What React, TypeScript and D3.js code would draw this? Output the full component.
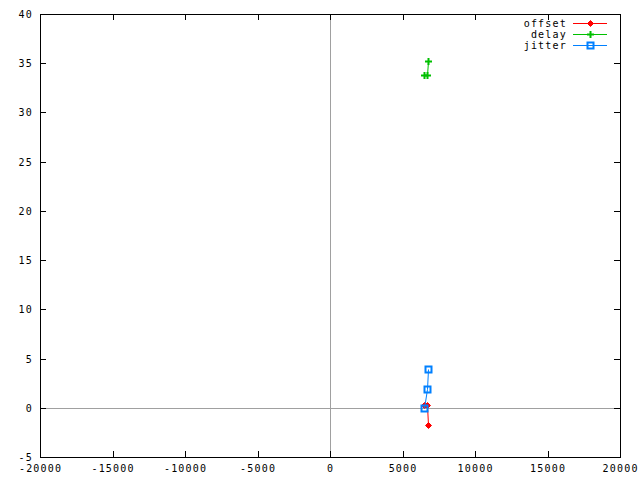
import React from 'react';
import * as d3 from 'd3';

const xValues = [6480, 6690, 6760];
const offsetValues = [0.3, 0.3, -1.7];
const delayValues = [33.8, 33.8, 35.2];
const jitterValues = [0.0, 1.9, 3.9];
const xTicks = [-20000, -15000, -10000, -5000, 0, 5000, 10000, 15000, 20000];
const yTicks = [-5, 0, 5, 10, 15, 20, 25, 30, 35, 40];
const seriesNames = ['offset', 'delay', 'jitter'];

const W = 640, H = 480;
const L = 40, R = 620, T = 14, B = 457;
const FONT = '"DejaVu Sans Mono", monospace';
const FS = 10;
const LS = 1.2;
const colors = ['#ff0000', '#00c000', '#0080ff'];

function Marker({ kind, x, y, color }: { kind: number; x: number; y: number; color: string }) {
  const cx = Math.round(x) + 0.5, cy = Math.round(y) + 0.5;
  if (kind === 0) {
    return <path d={`M${cx},${cy - 3}L${cx + 3},${cy}L${cx},${cy + 3}L${cx - 3},${cy}Z`} fill={color} stroke={color} strokeWidth={1} />;
  }
  if (kind === 1) {
    return <path d={`M${cx - 3.5},${cy}H${cx + 3.5}M${cx},${cy - 3.5}V${cy + 3.5}`} stroke={color} strokeWidth={2} fill="none" />;
  }
  return <rect x={cx - 3} y={cy - 3} width={6} height={6} fill="none" stroke={color} strokeWidth={2} />;
}

export default function App() {
  const x = d3.scaleLinear().domain([-20000, 20000]).range([L, R]);
  const y = d3.scaleLinear().domain([-5, 40]).range([B, T]);
  const series = [offsetValues, delayValues, jitterValues];
  const line = (vals: number[]) =>
    d3.line<number>().x((_, i) => Math.round(x(xValues[i])) + 0.5).y((v) => Math.round(y(v)) + 0.5)(vals) || '';
  const px = (v: number) => Math.round(v) + 0.5;
  const txt = { fontFamily: FONT, fontSize: FS, letterSpacing: LS, fill: '#000' } as const;

  return (
    <svg width={W} height={H} style={{ position: 'absolute', left: 0, top: 0, background: '#fff' }}>
      <rect x={0} y={0} width={W} height={H} fill="#fff" />
      <line x1={L} x2={R} y1={px(y(0))} y2={px(y(0))} stroke="#a0a0a0" strokeWidth={1} />
      <line x1={px(x(0))} x2={px(x(0))} y1={T} y2={B} stroke="#a0a0a0" strokeWidth={1} />
      {yTicks.map((t) => (
        <g key={'y' + t}>
          <line x1={L} x2={L + 6} y1={px(y(t))} y2={px(y(t))} stroke="#000" />
          <line x1={R - 6} x2={R} y1={px(y(t))} y2={px(y(t))} stroke="#000" />
          <text x={33} y={y(t) + 4} textAnchor="end" {...txt}>{t}</text>
        </g>
      ))}
      {xTicks.map((t) => (
        <g key={'x' + t}>
          <line x1={px(x(t))} x2={px(x(t))} y1={B} y2={B - 6} stroke="#000" />
          <line x1={px(x(t))} x2={px(x(t))} y1={T} y2={T + 6} stroke="#000" />
          <text x={x(t) + LS / 2} y={472} textAnchor="middle" {...txt}>{t}</text>
        </g>
      ))}
      <rect x={L + 0.5} y={T + 0.5} width={R - L} height={B - T} fill="none" stroke="#000" strokeWidth={1} />
      {series.map((vals, si) => (
        <g key={'s' + si}>
          <path d={line(vals)} fill="none" stroke={colors[si]} strokeWidth={1} />
          {vals.map((v, i) => (
            <Marker key={i} kind={si} x={x(xValues[i])} y={y(v)} color={colors[si]} />
          ))}
        </g>
      ))}
      {seriesNames.map((n, i) => {
        const ly = 23 + i * 11;
        return (
          <g key={'l' + n}>
            <text x={567} y={ly + 4} textAnchor="end" {...txt}>{n}</text>
            <line x1={573} x2={607} y1={ly + 0.5} y2={ly + 0.5} stroke={colors[i]} strokeWidth={1} />
            <Marker kind={i} x={590} y={ly} color={colors[i]} />
          </g>
        );
      })}
    </svg>
  );
}
